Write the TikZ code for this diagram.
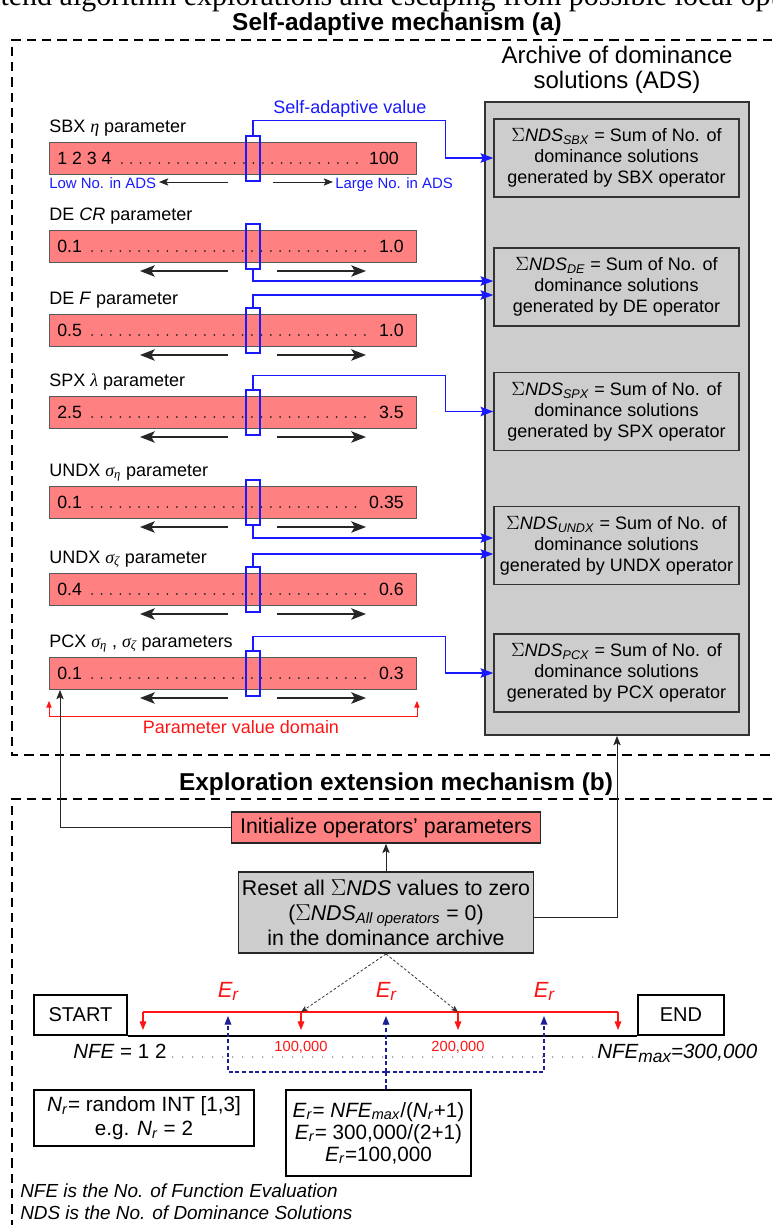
\documentclass[tikz,border=0pt]{standalone}
\usepackage{fontspec}
\setmainfont{Liberation Sans}
\newfontfamily\grk{Liberation Serif}
\newfontfamily\capfont{Liberation Serif}
\usetikzlibrary{arrows.meta,calc}
\definecolor{barred}{RGB}{255,128,128}
\definecolor{adsgray}{RGB}{205,205,205}
\definecolor{bblue}{RGB}{25,25,255}
\definecolor{navyb}{RGB}{30,30,150}
\definecolor{rred}{RGB}{255,20,20}
\tikzset{
 frame/.style={draw, line width=1.2pt, dash pattern=on 7pt off 4.5pt},
 pbar/.style={draw=black!65, line width=0.7pt, fill=barred, minimum width=275.25pt, minimum height=24pt, inner sep=0pt, anchor=north west},
 slider/.style={draw=bblue, line width=1.1pt, minimum width=10.5pt, minimum height=33.75pt, inner sep=0pt},
 plabel/.style={anchor=base west, inner sep=0pt, font=\fontsize{13.5}{16}\selectfont},
 pval/.style={inner sep=0pt, font=\fontsize{13.3}{16}\selectfont},
 dotrow/.style={line width=1.5pt, line cap=round, dash pattern=on 0pt off 7.05pt, black!85},
 bigarr/.style={line width=1.3pt, black!85, -{Stealth[length=11pt,width=8.5pt,inset=2.5pt]}},
 smallarr/.style={line width=0.7pt, black!85, -{Stealth[length=7pt,width=5.5pt,inset=1.5pt]}},
 bconn/.style={draw=bblue, line width=1.1pt, -{Stealth[length=9.5pt,width=7pt,inset=1.5pt]}},
 adsbox/.style={draw=black!80, line width=1.1pt, fill=adsgray, minimum width=183.75pt, minimum height=58.5pt, inner sep=2pt, align=center, font=\fontsize{13.5}{15.75}\selectfont},
 blkarr/.style={draw=black!85, line width=0.75pt, -{Stealth[length=7pt,width=5.5pt,inset=1.5pt]}},
 dasharr/.style={draw=black!80, line width=0.6pt, dash pattern=on 2pt off 1.5pt, -{Stealth[length=5pt,width=4pt,inset=1pt]}},
 redarr/.style={draw=rred, line width=0.8pt, -{Triangle[length=6.5pt,width=5pt]}},
 navyarr/.style={draw=navyb, line width=0.9pt, dash pattern=on 3pt off 2pt, -{Triangle[length=6.5pt,width=5pt]}},
 navyline/.style={draw=navyb, line width=0.9pt, dash pattern=on 3pt off 2pt},
 wbox/.style={draw=black, line width=1.1pt, fill=white, inner sep=2pt, align=center},
 ttl/.style={inner sep=0pt, font=\bfseries\fontsize{18.3}{22}\selectfont},
}
\newcommand\prow[6]{%
  \node[pbar] (#1) at (49,#2) {};
  \node[plabel] (#1l) at (49,#2-10) {#3};
  \node[pval, anchor=base west] (#1a) at (57,#2+22) {#4};
  \node[pval, anchor=base east] (#1b) at (#6,#2+22) {#5};
  \draw[dotrow] ($(#1a.base east)+(10,-1)$) -- ($(#1b.base west)+(-5,-1)$);
  \node[slider] (#1s) at (253,#2+16.5) {};
}
\newcommand\parr[1]{%
  \draw[bigarr] (228,#1+41) -- (140,#1+41);
  \draw[bigarr] (277,#1+41) -- (366,#1+41);
}
\begin{document}
\begin{tikzpicture}[x=0.75pt,y=-0.75pt]
\useasboundingbox (0,0) rectangle (772,1225);
\begin{scope}
\clip (0,0) rectangle (772,1225);
\node[anchor=base west, inner sep=0pt, font=\capfont\fontsize{22.5}{26}\selectfont] (cap) at (-28,5) {extend algorithm explorations and escaping from possible local optima};
\end{scope}

% frames
\draw[frame] (772,40) -- (12,40) -- (12,755) -- (772,755);
\draw[frame] (772,799) -- (12,799) -- (12,1225);
\node[ttl, anchor=base] (ta) at (397,30) {Self-adaptive mechanism (a)};
\node[ttl, anchor=base] (tb) at (396,790) {Exploration extension mechanism (b)};

% ADS
\node[draw=black!80, line width=1.4pt, fill=adsgray, minimum width=198pt, minimum height=474.75pt, inner sep=0pt] (ads) at (617,418.5) {};
\node[anchor=base, align=center, inner sep=0pt, font=\fontsize{18}{18.75}\selectfont] (adst) at (617,88) {Archive of dominance\\solutions (ADS)};
\node[adsbox] (ads1) at (616.5,158) {$\Sigma$\textit{NDS}\textsubscript{\textit{SBX}} = Sum of No. of\\dominance solutions\\generated by SBX operator};
\node[adsbox] (ads2) at (616.5,287) {$\Sigma$\textit{NDS}\textsubscript{\textit{DE}} = Sum of No. of\\dominance solutions\\generated by DE operator};
\node[adsbox] (ads3) at (616.5,411.5) {$\Sigma$\textit{NDS}\textsubscript{\textit{SPX}} = Sum of No. of\\dominance solutions\\generated by SPX operator};
\node[adsbox] (ads4) at (616.5,545.5) {$\Sigma$\textit{NDS}\textsubscript{\textit{UNDX}} = Sum of No. of\\dominance solutions\\generated by UNDX operator};
\node[adsbox] (ads5) at (616.5,673) {$\Sigma$\textit{NDS}\textsubscript{\textit{PCX}} = Sum of No. of\\dominance solutions\\generated by PCX operator};

% parameter rows
\prow{r1}{142}{SBX {\grk\itshape η} parameter}{1 2 3 4}{100}{399}
\prow{r2}{230}{DE \textit{CR} parameter}{0.1}{1.0}{404}
\prow{r3}{314}{DE \textit{F} parameter}{0.5}{1.0}{404}
\prow{r4}{396}{SPX {\grk\itshape λ} parameter}{2.5}{3.5}{404}
\prow{r5}{486}{UNDX {\grk\itshape σ\textsubscript{η}} parameter}{0.1}{0.35}{404}
\prow{r6}{573}{UNDX {\grk\itshape σ\textsubscript{ζ}} parameter}{0.4}{0.6}{404}
\prow{r7}{657}{PCX {\grk\itshape σ\textsubscript{η}} , {\grk\itshape σ\textsubscript{ζ}} parameters}{0.1}{0.3}{404}
\parr{230}\parr{314}\parr{396}\parr{486}\parr{573}\parr{657}
\draw[smallarr] (228,182) -- (159,182);
\draw[smallarr] (273,182) -- (333,182);
\node[anchor=base west, inner sep=0pt, text=bblue, font=\fontsize{11.2}{13}\selectfont] (low) at (49,188) {Low No. in ADS};
\node[anchor=base west, inner sep=0pt, text=bblue, font=\fontsize{11.2}{13}\selectfont] (large) at (335,188) {Large No. in ADS};
\node[anchor=base west, inner sep=0pt, text=bblue, font=\fontsize{13.5}{16}\selectfont] (sav) at (273,113) {Self-adaptive value};

% blue connectors
\draw[bconn] (r1s.north) -- ++(0,-15) -| ($(ads1.west)+(-48,0)$) -- (ads1.west);
\draw[bconn] (r2s.south) |- ($(ads2.west)+(0,-6)$);
\draw[bconn] (r3s.north) |- ($(ads2.west)+(0,8)$);
\draw[bconn] (r4s.north) -- ++(0,-14) -| ($(ads3.west)+(-48,0)$) -- (ads3.west);
\draw[bconn] (r5s.south) |- ($(ads4.west)+(0,-7.5)$);
\draw[bconn] (r6s.north) |- ($(ads4.west)+(0,8.5)$);
\draw[bconn] (r7s.north) -- ++(0,-14) -| ($(ads5.west)+(-48,0)$) -- (ads5.west);

% domain
\draw[draw=rred, line width=0.6pt, {Triangle[length=5pt,width=4pt]}-{Triangle[length=5pt,width=4pt]}] ($(r7.south west)+(0,11)$) -- ++(0,15) -| ($(r7.south east)+(0,11)$);
\node[anchor=base, inner sep=0pt, text=rred, font=\fontsize{13.5}{16}\selectfont] (pvd) at (241,733) {Parameter value domain};

% part b
\node[draw=black!85, line width=1.1pt, fill=barred, minimum width=231.75pt, minimum height=23.25pt, inner sep=0pt, font=\fontsize{16}{19}\selectfont] (init) at (386,827.5) {Initialize operators' parameters};
\node[draw=black!85, line width=1.4pt, fill=adsgray, minimum width=221.25pt, minimum height=60.75pt, inner sep=0pt, align=center, font=\fontsize{16}{18.75}\selectfont] (reset) at (386,912.5) {Reset all $\Sigma$\textit{NDS} values to zero\\($\Sigma$\textit{NDS}\textsubscript{\textit{All operators}} = 0)\\in the dominance archive};
\draw[blkarr] (init.west) -| ($(r7.south west)+(11,0)$);
\draw[blkarr] ($(reset.east)+(0,4.5)$) -| (ads.south);
\draw[blkarr] (reset.north) -- (init.south);

\node[wbox, minimum width=69.75pt, minimum height=30pt, font=\fontsize{15}{18}\selectfont] (start) at (80.5,1015) {START};
\node[wbox, minimum width=64.5pt, minimum height=30pt, font=\fontsize{15}{18}\selectfont] (end) at (681,1015) {END};
\draw[line width=1.4pt] (start.south east) -- (end.south west);

\coordinate (d0) at (143,1012);
\coordinate (d1) at (301,1012);
\coordinate (d2) at (458,1012);
\coordinate (d3) at (618,1012);
\draw[draw=rred, line width=0.8pt] (d0) -- (d3);
\foreach \d in {d0,d1,d2,d3} { \draw[redarr] (\d) -- ++(0,18); }
\draw[dasharr] (reset.south) -- (d1);
\draw[dasharr] (reset.south) -- (d2);
\foreach \x/\n in {228/e1,386/e2,544/e3} {
  \node[anchor=base, inner sep=0pt, text=rred, font=\itshape\fontsize{16.5}{18}\selectfont] (\n) at (\x,997) {E\raisebox{-0.3ex}{\fontsize{13}{13}\selectfont r}};
}
\node[anchor=base, inner sep=0pt, text=rred, font=\fontsize{11}{13}\selectfont] (k1) at (301,1051) {100,000};
\node[anchor=base, inner sep=0pt, text=rred, font=\fontsize{11}{13}\selectfont] (k2) at (458,1051) {200,000};

\node[anchor=base west, inner sep=0pt, font=\fontsize{15.4}{18}\selectfont] (nfe1) at (73,1058) {\textit{NFE} = 1 2};
\node[anchor=base west, inner sep=0pt, font=\itshape\fontsize{15.4}{18}\selectfont] (nfe2) at (597,1058) {NFE\raisebox{-0.4ex}{\fontsize{13}{13}\selectfont max}=300,000};
\draw[line width=1.1pt, line cap=round, dash pattern=on 0pt off 7.5pt, black!70] ($(nfe1.base east)+(6,-1)$) -- ($(nfe2.base west)+(-4,-1)$);

\node[wbox, minimum width=165pt, minimum height=42pt, font=\fontsize{15.5}{18}\selectfont] (nr) at (144,1118) {\textit{N}\textsubscript{\textit{r}}= random INT [1,3]\\e.g. \textit{N}\textsubscript{\textit{r}} = 2};
\node[wbox, minimum width=138.75pt, minimum height=64.5pt, font=\fontsize{15.5}{16.5}\selectfont] (er) at (378.5,1133) {\textit{E}\textsubscript{\textit{r}}= \textit{NFE}\textsubscript{\textit{max}}/(\textit{N}\textsubscript{\textit{r}}+1)\\\textit{E}\textsubscript{\textit{r}}= 300,000/(2+1)\\\textit{E}\textsubscript{\textit{r}}=100,000};

\coordinate (hb) at (386,1072);
\coordinate (u1) at (228,1016);
\coordinate (u2) at (386,1016);
\coordinate (u3) at (544,1016);
\draw[navyline] (er.north -| hb) -- (hb);
\draw[navyarr] (hb) -- (u2);
\draw[navyarr] (hb) -| (u1);
\draw[navyarr] (hb) -| (u3);

\node[anchor=base west, inner sep=0pt, font=\itshape\fontsize{14.2}{17}\selectfont] (n1) at (20,1197) {NFE is the No. of Function Evaluation};
\node[anchor=base west, inner sep=0pt, font=\itshape\fontsize{14.2}{17}\selectfont] (n2) at (20,1219) {NDS is the No. of Dominance Solutions};
\end{tikzpicture}
\end{document}
